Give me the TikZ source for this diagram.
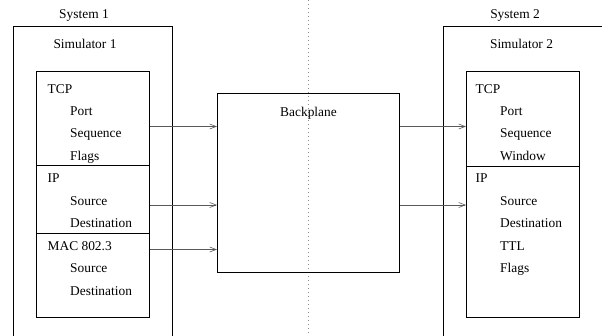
\documentclass[tikz,border=0pt]{standalone}
\usepackage{fontspec}
\setmainfont{Liberation Serif}
\usetikzlibrary{arrows.meta}
\begin{document}
\begin{tikzpicture}[x=1pt,y=-1pt,
  font=\fontsize{13.4}{16}\selectfont,
  frame/.style={draw=black,line width=0.8pt,inner sep=0pt,anchor=north west},
  lbl/.style={anchor=base west,inner sep=0pt},
  title/.style={anchor=base,inner sep=0pt},
  link/.style={draw=black!65,line width=0.6pt,-{Straight Barb[length=6.5pt,width=5pt]}},
  divider/.style={draw=black!45,line width=0.9pt,dash pattern=on 1pt off 3pt}]
\useasboundingbox (0,0) rectangle (602,335);

% dividing line between the two systems
\coordinate (dtop) at (308,0);
\coordinate (dbot) at (308,335);
\draw[divider] (dtop) -- (dbot);

% system enclosures (open beyond the page edge)
\node[frame,minimum width=159pt,minimum height=330pt] (sys1) at (13.3,25.7) {};
\node[frame,minimum width=180pt,minimum height=330pt] (sys2) at (443.3,25.7) {};
\node[title] (sys1t) at (84,18.5) {System 1};
\node[title] (sys2t) at (515,18.5) {System 2};
\node[title] (sim1t) at (85,48) {Simulator 1};
\node[title] (sim2t) at (521.5,48) {Simulator 2};

% protocol stack of simulator 1
\node[frame,minimum width=113.3pt,minimum height=94.3pt] (tcpA) at (36,70.7) {};
\node[frame,minimum width=113.3pt,minimum height=68pt] (ipA) at (36,165) {};
\node[frame,minimum width=113.3pt,minimum height=84pt] (macA) at (36,233) {};
\node[lbl] (tcpAh) at (47.5,93) {TCP};
\node[lbl] (tcpA1) at (70,115) {Port};
\node[lbl] (tcpA2) at (70,137.5) {Sequence};
\node[lbl] (tcpA3) at (70,160) {Flags};
\node[lbl] (ipAh) at (47.5,182) {IP};
\node[lbl] (ipA1) at (70,205) {Source};
\node[lbl] (ipA2) at (70,227.5) {Destination};
\node[lbl] (macAh) at (47.5,250) {MAC 802.3};
\node[lbl] (macA1) at (70,272.5) {Source};
\node[lbl] (macA2) at (70,295) {Destination};

% backplane
\node[frame,minimum width=182pt,minimum height=179.3pt] (bp) at (217,92.7) {};
\node[title] (bpt) at (308.5,116) {Backplane};

% protocol stack of simulator 2
\node[frame,minimum width=113pt,minimum height=95pt] (tcpB) at (466,70.7) {};
\node[frame,minimum width=113pt,minimum height=151pt] (ipB) at (466,165.7) {};
\node[lbl] (tcpBh) at (475.5,93) {TCP};
\node[lbl] (tcpB1) at (500,115) {Port};
\node[lbl] (tcpB2) at (500,137.5) {Sequence};
\node[lbl] (tcpB3) at (500,160) {Window};
\node[lbl] (ipBh) at (475.5,182) {IP};
\node[lbl] (ipB1) at (500,205) {Source};
\node[lbl] (ipB2) at (500,227.5) {Destination};
\node[lbl] (ipB3) at (500,250) {TTL};
\node[lbl] (ipB4) at (500,272.5) {Flags};

% connector rows
\coordinate (row1) at (0,126.5);
\coordinate (row2) at (0,205);
\coordinate (row3) at (0,249.5);
\draw[link] (tcpA.east |- row1) -- (bp.west |- row1);
\draw[link] (ipA.east |- row2) -- (bp.west |- row2);
\draw[link] (macA.east |- row3) -- (bp.west |- row3);
\draw[link] (bp.east |- row1) -- (tcpB.west |- row1);
\draw[link] (bp.east |- row2) -- (ipB.west |- row2);
\end{tikzpicture}
\end{document}
